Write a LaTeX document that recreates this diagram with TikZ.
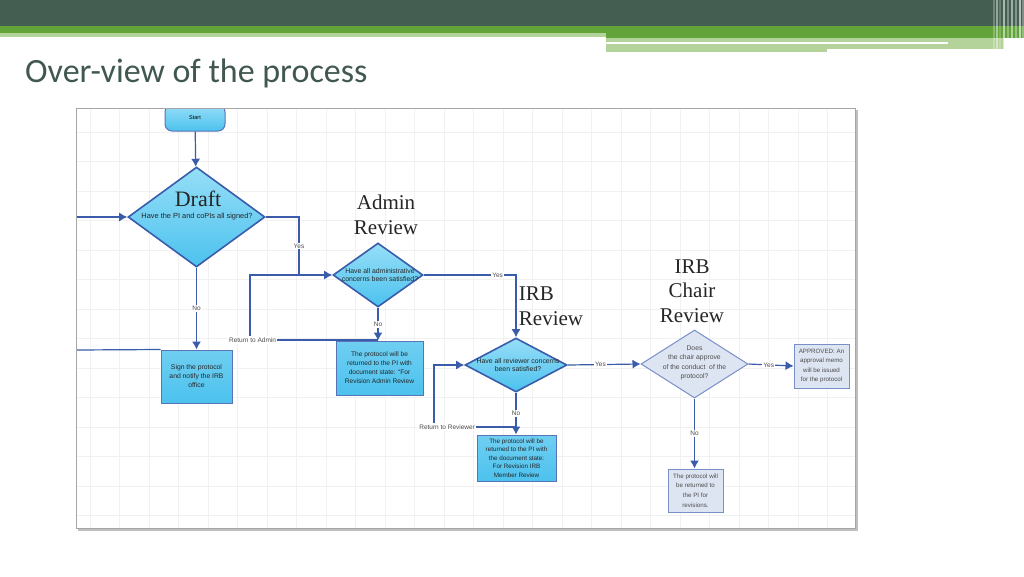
\documentclass[tikz,border=0pt]{standalone}
\usepackage{fontspec}
\setmainfont{Liberation Sans}
\newfontfamily\slidefont{Carlito}
\newfontfamily\stagefont{Liberation Serif}
\usetikzlibrary{shapes.geometric, arrows, arrows.meta, positioning}

\definecolor{headdark}{RGB}{68,94,82}
\definecolor{headgreen}{RGB}{98,163,58}
\definecolor{headlight}{RGB}{180,211,155}
\definecolor{titlegrey}{RGB}{64,88,78}
\definecolor{flowblue}{RGB}{58,92,170}
\definecolor{boxcyan}{RGB}{76,194,238}
\definecolor{boxcyanlight}{RGB}{150,222,247}
\definecolor{chairfill}{RGB}{222,229,242}
\definecolor{chairline}{RGB}{120,144,198}
\definecolor{gridgrey}{RGB}{241,241,241}

\begin{document}
\begin{tikzpicture}[x=1pt, y=-1pt,
    decision/.style={diamond, draw=flowblue, line width=1.6pt, inner sep=0pt, top color=boxcyanlight, bottom color=boxcyan},
    chairdecision/.style={diamond, draw=chairline, line width=1pt, inner sep=0pt, fill=chairfill},
    process/.style={rectangle, draw=flowblue!85, line width=1pt, inner sep=0pt, top color=boxcyan!80, bottom color=boxcyan},
    chairprocess/.style={rectangle, draw=chairline, line width=1pt, inner sep=0pt, fill=chairfill},
    terminal/.style={rectangle, rounded corners=7pt, draw=flowblue!85, line width=1pt, minimum width=60pt, minimum height=26pt, top color=boxcyanlight, bottom color=boxcyan, font=\fontsize{5.5}{6}\selectfont},
    question/.style={align=center, inner sep=0pt, font=\fontsize{6.9}{8.6}\selectfont, text=black!85},
    stage/.style={align=center, inner sep=0pt, font=\stagefont\fontsize{21}{24.5}\selectfont, text=black!85},
    answer/.style={fill=white, inner sep=1.2pt, font=\fontsize{6.5}{7}\selectfont, text=black!70},
    line/.style={draw=flowblue, line width=1.2pt},
    arrow/.style={line, -{Latex[length=8pt, width=9pt]}}
]
    \useasboundingbox (0,0) rectangle (1024,576);
    \fill[white] (0,0) rectangle (1024,576);

    % slide header
    \fill[headdark] (0,0) rectangle (1024,26);
    \fill[headgreen] (0,26) rectangle (1024,33);
    \fill[headgreen] (606,26) rectangle (1024,38);
    \fill[headlight] (0,33) rectangle (606,37);
    \fill[headlight] (606,38) rectangle (1004,52);
    \fill[white] (606,41.5) rectangle (948,43.5);
    \fill[white] (827,49) rectangle (1004,52);
    \foreach \sx/\op in {993/0.25, 996/0.45, 999/0.2, 1003/0.55, 1007/0.3, 1011/0.5, 1015/0.35, 1019/0.6, 1022/0.3}
        \fill[white, opacity=\op] (\sx,0) rectangle ++(1.6,50);
    \node[anchor=base west, inner sep=0pt, text=titlegrey, font=\slidefont\fontsize{34}{36}\selectfont] (title) at (25,82) {Over-view of the process};

    % screenshot frame with grid
    \fill[black!25] (78,110) rectangle (858,531);
    \fill[white] (76,108) rectangle (855,528);
    \begin{scope}
    \clip (76,108) rectangle (855,528);
    \foreach \gx in {90,119.5,...,855}
        \draw[gridgrey, line width=0.8pt] (\gx,108) -- (\gx,528);
    \foreach \gy in {132,161.5,...,528}
        \draw[gridgrey, line width=0.8pt] (76,\gy) -- (855,\gy);

    % nodes
    \node[terminal] (start) at (195,118) {Start};
    \node[decision, minimum width=137pt, minimum height=100pt] (draft) at (196.5,217) {};
    \node[stage, font=\stagefont\fontsize{22}{24}\selectfont] (draftname) at (198,199) {Draft};
    \node[question, font=\fontsize{7.4}{8.6}\selectfont] (draftq) at (197,217) {Have the PI and coPIs all signed?};
    \node[process, minimum width=71pt, minimum height=53pt] (sign) at (196.5,376.5) {};
    \node[question, font=\fontsize{6.8}{9}\selectfont] (signtext) at (sign.center) {Sign the protocol\\and notify the IRB\\office};

    \node[stage] (adminname) at (386,215) {Admin\\Review};
    \node[decision, minimum width=90pt, minimum height=64pt] (admin) at (378,275) {};
    \node[question] (adminq) at (380,275) {Have all administrative\\concerns been satisfied?};
    \node[process, minimum width=87pt, minimum height=54pt] (adminbox) at (379.5,368) {};
    \node[question, font=\fontsize{6.6}{9}\selectfont] (admintext) at (adminbox.center) {The protocol will be\\returned to the PI with\\document state: ``For\\Revision Admin Review};

    \node[stage, align=left] (irbname) at (551,306) {IRB\\Review};
    \node[decision, minimum width=102pt, minimum height=54pt] (irb) at (516,365) {};
    \node[question] (irbq) at (518,365) {Have all reviewer concerns\\been satisfied?};
    \node[process, minimum width=79pt, minimum height=46pt] (irbbox) at (516.5,458) {};
    \node[question, font=\fontsize{6.3}{8.6}\selectfont] (irbtext) at (irbbox.center) {The protocol will be\\returned to the PI with\\the document state:\\For Revision IRB\\Member Review};

    \node[stage] (chairname) at (692,291) {IRB\\Chair\\Review};
    \node[chairdecision, minimum width=107pt, minimum height=68pt] (chair) at (694.5,364) {};
    \node[question, font=\fontsize{6.8}{9.4}\selectfont, text=black!70] (chairq) at (694.5,363) {Does\\the chair approve\\of the conduct\ \ of the\\protocol?};
    \node[chairprocess, minimum width=55pt, minimum height=44pt] (approved) at (821.5,366) {};
    \node[question, font=\fontsize{6.2}{9.6}\selectfont, text=black!70] (approvedtext) at (approved.center) {APPROVED: An\\approval memo\\will be issued\\for the protocol};
    \node[chairprocess, minimum width=55pt, minimum height=43pt] (chairbox) at (695.5,490.5) {};
    \node[question, font=\fontsize{6.2}{9.6}\selectfont, text=black!70] (chairtext) at (chairbox.center) {The protocol will\\be returned to\\the PI for\\revisions.};

    % loose ends
    \coordinate (entry) at (76,217);
    \coordinate (signin) at (76,350);
    \coordinate (yesjoin) at (299,275);
    \coordinate (admret) at (378,340);
    \coordinate (admloop) at (250,275);
    \coordinate (irbret) at (516,427);
    \coordinate (irbloop) at (434,365);

    % connectors
    \draw[arrow] (start) -- (draft);
    \draw[arrow] (entry) -- (draft.west);
    \draw[line] (signin) -- (sign.north west);
    \draw[arrow] (draft.south) -- node[answer] {No} (draft.south |- sign.north);
    \draw[line] (draft.east) -| node[answer, pos=0.75] {Yes} (yesjoin);
    \draw[arrow] (admret) -| node[answer, pos=0.49] {Return to Admin} (admloop) -- (admin.west);
    \draw[arrow] (admin.south) -- node[answer] {No} (admin.south |- adminbox.north);
    \draw[arrow] (admin.east) -| node[answer, pos=0.4] {Yes} (irb.north);
    \draw[arrow] (irbret) -| node[answer, pos=0.42] {Return to Reviewer} (irbloop) -- (irb.west);
    \draw[arrow] (irb.south) -- node[answer] {No} (irb.south |- irbbox.north);
    \draw[arrow] (irb.east) -- node[answer, pos=0.45] {Yes} (chair.west);
    \draw[arrow] (chair.east) -- node[answer, pos=0.45] {Yes} (approved.west);
    \draw[arrow] (chair.south) -- node[answer] {No} (chair.south |- chairbox.north);
    \end{scope}
    \draw[black!35, line width=0.8pt] (76,108) rectangle (855,528);
\end{tikzpicture}
\end{document}
